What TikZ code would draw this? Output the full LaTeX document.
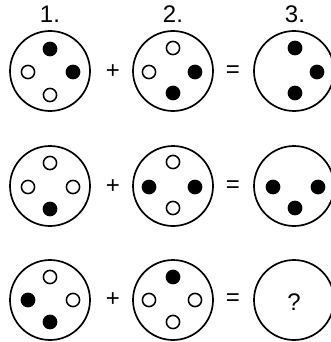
\documentclass[tikz,border=0pt]{standalone}
\usepackage{fontspec}
\setmainfont{Liberation Sans}
\tikzset{
  ring/.style={draw, circle, line width=0.85pt, minimum size=40pt, inner sep=0pt},
  hole/.style={draw, circle, line width=0.75pt, minimum size=6.6pt, inner sep=0pt},
  disc/.style={draw, fill=black, circle, line width=0.75pt, minimum size=6.6pt, inner sep=0pt},
  sign/.style={font=\fontsize{12}{14}\selectfont, inner sep=0pt}
}
\begin{document}
\begin{tikzpicture}[x=0.5pt, y=-0.5pt]
    \useasboundingbox (0,0) rectangle (331,342);
    % column labels
    \node[sign] (lab1) at (50,14) {1.};
    \node[sign] (lab2) at (173,14) {2.};
    \node[sign] (lab3) at (295,14) {3.};

    % row 1
    \node[ring] (ringa1) at (50,71) {};
    \node[disc] (a1n) at (50,49) {};
    \node[hole] (a1w) at (28,72) {};
    \node[disc] (a1e) at (73,72) {};
    \node[hole] (a1s) at (50,95) {};
    \node[sign] (plusa) at (113,72) {+};
    \node[ring] (ringa2) at (173,71) {};
    \node[hole] (a2n) at (173,48) {};
    \node[hole] (a2w) at (149,72) {};
    \node[disc] (a2e) at (195,72) {};
    \node[disc] (a2s) at (173,93) {};
    \node[sign] (eqa) at (233,72) {=};
    \node[ring] (ringa3) at (294,71) {};
    \node[disc] (a3n) at (295,48) {};
    \node[disc] (a3e) at (317,72) {};
    \node[disc] (a3s) at (295,93) {};

    % row 2
    \node[ring] (ringb1) at (50,186) {};
    \node[hole] (b1n) at (50,163) {};
    \node[hole] (b1w) at (28,187) {};
    \node[hole] (b1e) at (73,187) {};
    \node[disc] (b1s) at (50,209) {};
    \node[sign] (plusb) at (113,187) {+};
    \node[ring] (ringb2) at (173,186) {};
    \node[hole] (b2n) at (173,162) {};
    \node[disc] (b2w) at (149,187) {};
    \node[disc] (b2e) at (195,187) {};
    \node[hole] (b2s) at (173,208) {};
    \node[sign] (eqb) at (233,187) {=};
    \node[ring] (ringb3) at (294,186) {};
    \node[disc] (b3w) at (273,187) {};
    \node[disc] (b3e) at (318,187) {};
    \node[disc] (b3s) at (295,208) {};

    % row 3
    \node[ring] (ringc1) at (50,300) {};
    \node[hole] (c1n) at (50,277) {};
    \node[disc] (c1w) at (28,300) {};
    \node[hole] (c1e) at (73,300) {};
    \node[disc] (c1s) at (50,322) {};
    \node[sign] (plusc) at (113,300) {+};
    \node[ring] (ringc2) at (173,300) {};
    \node[disc] (c2n) at (173,277) {};
    \node[hole] (c2w) at (149,300) {};
    \node[hole] (c2e) at (195,300) {};
    \node[hole] (c2s) at (173,322) {};
    \node[sign] (eqc) at (233,300) {=};
    \node[ring] (ringc3) at (294,300) {};
    \node[sign] (ask) at (294,302) {?};
\end{tikzpicture}
\end{document}
